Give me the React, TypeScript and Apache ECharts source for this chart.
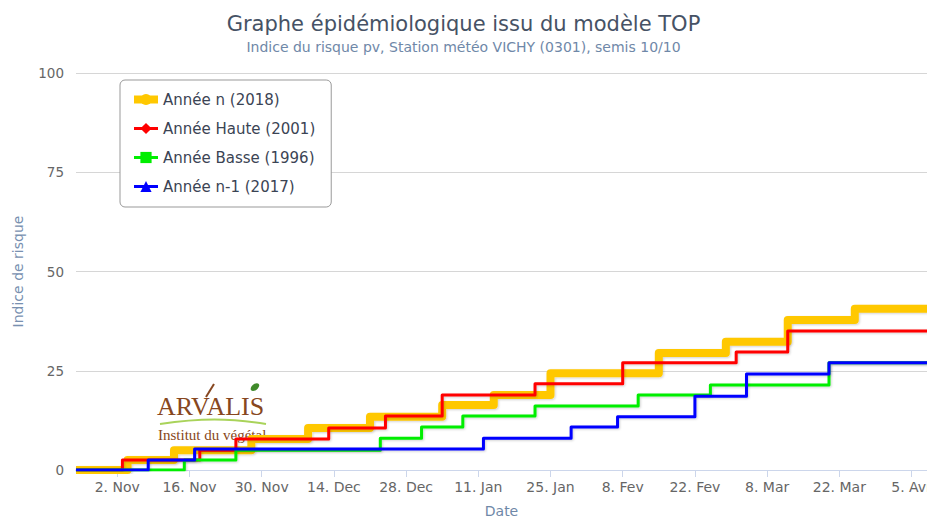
import React, { useEffect, useRef } from 'react';
import * as echarts from 'echarts';

const chartTitle = 'Graphe épidémiologique issu du modèle TOP';
const chartSubtitle = 'Indice du risque pv, Station météo VICHY (0301), semis 10/10';
const yAxisTitle = 'Indice de risque';
const xAxisTitle = 'Date';

const seriesNames = ['Année n (2018)', 'Année Haute (2001)', 'Année Basse (1996)', 'Année n-1 (2017)'];
const seriesColors = ['#ffc800', '#ff0000', '#00ee00', '#0000ff'];
const seriesSymbols = ['circle', 'diamond', 'rect', 'triangle'];
const seriesWidths = [8, 3, 3, 3];

const xStart = '2018-10-25';
const xEnd = '2019-04-08';
const tickDates = [
  '2018-11-02', '2018-11-16', '2018-11-30', '2018-12-14', '2018-12-28', '2019-01-11',
  '2019-01-25', '2019-02-08', '2019-02-22', '2019-03-08', '2019-03-22', '2019-04-05',
];
const monthNames = ['Jan', 'Fev', 'Mar', 'Avr', 'Mai', 'Juin', 'Juil', 'Aoû', 'Sep', 'Oct', 'Nov', 'Dec'];
const yTicks = [0, 25, 50, 75, 100];

// [date of change, new value]
const anneeN2018: [string, number][] = [
  ['2018-10-25', 0], ['2018-11-04', 2.5], ['2018-11-13', 5.0], ['2018-11-28', 7.8],
  ['2018-12-09', 10.6], ['2018-12-21', 13.4], ['2019-01-04', 16.4], ['2019-01-14', 18.9],
  ['2019-01-25', 24.4], ['2019-02-15', 29.5], ['2019-02-28', 32.3], ['2019-03-12', 37.8],
  ['2019-03-25', 40.6], ['2019-04-08', 40.6],
];
const anneeHaute2001: [string, number][] = [
  ['2018-10-25', 0], ['2018-11-03', 2.5], ['2018-11-18', 5.0], ['2018-11-25', 7.8],
  ['2018-12-13', 10.6], ['2018-12-24', 13.6], ['2019-01-04', 18.9], ['2019-01-22', 21.7],
  ['2019-02-08', 27.0], ['2019-03-02', 29.7], ['2019-03-12', 35.0], ['2019-04-08', 35.0],
];
const anneeBasse1996: [string, number][] = [
  ['2018-10-25', 0], ['2018-11-15', 2.5], ['2018-11-25', 5.0], ['2018-12-23', 8.0],
  ['2018-12-31', 10.8], ['2019-01-08', 13.6], ['2019-01-22', 16.1], ['2019-02-11', 18.9],
  ['2019-02-25', 21.4], ['2019-03-20', 27.0], ['2019-04-08', 27.0],
];
const anneeN1_2017: [string, number][] = [
  ['2018-10-25', 0], ['2018-11-08', 2.5], ['2018-11-17', 5.3], ['2019-01-12', 8.0],
  ['2019-01-29', 10.8], ['2019-02-07', 13.4], ['2019-02-22', 18.6], ['2019-03-04', 24.2],
  ['2019-03-20', 27.0], ['2019-04-08', 27.0],
];
const allSeries = [anneeN2018, anneeHaute2001, anneeBasse1996, anneeN1_2017];

const ORIGIN = Date.UTC(2018, 9, 1);
const dayIndex = (s: string) => {
  const [y, m, d] = s.split('-').map(Number);
  return (Date.UTC(y, m - 1, d) - ORIGIN) / 86400000;
};
const dayLabel = (v: number) => {
  const dt = new Date(ORIGIN + Math.round(v) * 86400000);
  return `${dt.getUTCDate()}. ${monthNames[dt.getUTCMonth()]}`;
};

const FONT = 'DejaVu Sans';
const BROWN = '#874720';

export default function App() {
  const ref = useRef<HTMLDivElement>(null);
  useEffect(() => {
    if (!ref.current) return;
    const chart = echarts.init(ref.current, null, { renderer: 'svg' });
    const ticks = tickDates.map(dayIndex);
    chart.setOption({
      animation: false,
      backgroundColor: '#ffffff',
      textStyle: { fontFamily: FONT },
      title: {
        text: chartTitle,
        subtext: chartSubtitle,
        left: 'center',
        top: 8,
        itemGap: 6,
        textStyle: { fontFamily: FONT, fontSize: 21, fontWeight: 'normal', color: '#465265' },
        subtextStyle: { fontFamily: FONT, fontSize: 14, color: '#6f88a8' },
      },
      legend: {
        orient: 'vertical',
        left: 120,
        top: 80,
        padding: [12, 16, 13, 10],
        itemWidth: 24,
        itemHeight: 14,
        itemGap: 14,
        backgroundColor: '#ffffff',
        borderColor: '#999999',
        borderWidth: 1,
        borderRadius: 5,
        textStyle: { fontFamily: FONT, fontSize: 15, color: '#3b4454' },
        data: seriesNames.map((n, i) => ({
          name: n,
          lineStyle: { width: seriesWidths[i], color: seriesColors[i] },
        })),
      },
      grid: { left: 76, right: 0, top: 73, bottom: 47, containLabel: false, outerBoundsMode: 'none' },
      xAxis: {
        type: 'value',
        min: dayIndex(xStart),
        max: dayIndex(xEnd),
        name: xAxisTitle,
        nameLocation: 'middle',
        nameGap: 34,
        nameTextStyle: { fontFamily: FONT, fontSize: 14, color: '#6f88a8' },
        axisLine: { lineStyle: { color: '#ccd6eb', width: 1 } },
        axisTick: { show: true, customValues: ticks, length: 7, lineStyle: { color: '#ccd6eb' } },
        axisLabel: {
          customValues: ticks,
          formatter: (v: number) => dayLabel(v),
          fontFamily: FONT,
          fontSize: 14,
          color: '#666666',
          margin: 10,
        },
        splitLine: { show: false },
      },
      yAxis: {
        type: 'value',
        min: yTicks[0],
        max: yTicks[yTicks.length - 1],
        interval: 25,
        name: yAxisTitle,
        nameLocation: 'middle',
        nameGap: 51,
        nameTextStyle: { fontFamily: FONT, fontSize: 14, color: '#7890b0' },
        axisLine: { show: false },
        axisTick: { show: false },
        axisLabel: { fontFamily: FONT, fontSize: 13.5, color: '#666666', margin: 12 },
        splitLine: { lineStyle: { color: '#d6d6d6', width: 1 } },
      },
      graphic: [
        {
          type: 'group',
          z: 0,
          silent: true,
          children: [
            {
              type: 'text',
              x: 157,
              y: 393,
              style: { text: 'ARVALIS', font: '26px "Liberation Serif"', fill: BROWN },
            },
            {
              type: 'line',
              shape: { x1: 206, y1: 397, x2: 214, y2: 384 },
              style: { stroke: BROWN, lineWidth: 2 },
            },
            {
              type: 'ellipse',
              shape: { cx: 255, cy: 387, rx: 5, ry: 3 },
              rotation: 0.7,
              originX: 255,
              originY: 387,
              style: { fill: '#3f8a2a' },
            },
            {
              type: 'bezierCurve',
              shape: { x1: 160, y1: 424, x2: 266, y2: 424, cpx1: 200, cpy1: 418, cpx2: 230, cpy2: 418 },
              style: { stroke: '#a9d35a', lineWidth: 2, fill: 'none' },
            },
            {
              type: 'text',
              x: 158,
              y: 427,
              style: { text: 'Institut du végétal', font: '15px "Liberation Serif"', fill: BROWN },
            },
          ],
        },
      ],
      series: allSeries.map((data, i) => ({
        name: seriesNames[i],
        type: 'line',
        step: 'end',
        symbol: seriesSymbols[i],
        symbolSize: i === 0 ? 12 : 10,
        showSymbol: false,
        color: seriesColors[i],
        lineStyle: {
          width: seriesWidths[i],
          color: seriesColors[i],
          join: 'round',
          shadowColor: 'rgba(0,0,0,0.18)',
          shadowBlur: 2,
          shadowOffsetX: 1,
          shadowOffsetY: 1,
        },
        z: 3 + i,
        data: data.map(([d, v]) => [dayIndex(d), v]),
      })),
    });
    return () => chart.dispose();
  }, []);
  return <div ref={ref} style={{ width: 927, height: 517, position: 'absolute', left: 0, top: 0 }} />;
}
